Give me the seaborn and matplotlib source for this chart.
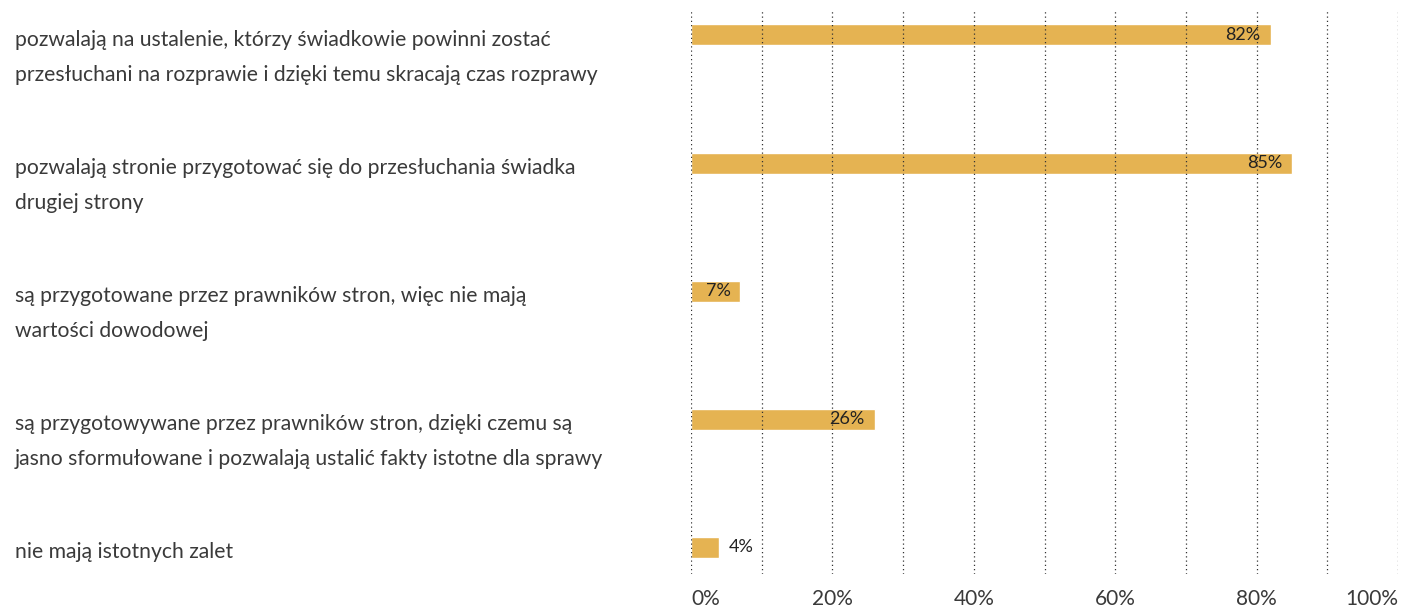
import matplotlib
matplotlib.use("Agg")
import matplotlib.pyplot as plt
import matplotlib.transforms as mtransforms
import seaborn as sns
import pandas as pd

categories = [
    "pozwalają na ustalenie, którzy świadkowie powinni zostać\nprzesłuchani na rozprawie i dzięki temu skracają czas rozprawy",
    "pozwalają stronie przygotować się do przesłuchania świadka\ndrugiej strony",
    "są przygotowane przez prawników stron, więc nie mają\nwartości dowodowej",
    "są przygotowywane przez prawników stron, dzięki czemu są\njasno sformułowane i pozwalają ustalić fakty istotne dla sprawy",
    "nie mają istotnych zalet",
]
values = [82, 85, 7, 26, 4]
value_labels = ["82%", "85%", "7%", "26%", "4%"]
tick_values = [0, 10, 20, 30, 40, 50, 60, 70, 80, 90, 100]
tick_labels = ["0%", "", "20%", "", "40%", "", "60%", "", "80%", "", "100%"]

BAR_COLOR = "#E5B352"
TEXT_COLOR = "#3a3a3a"

sns.set_theme(style="white")
plt.rcParams["font.family"] = ["Lato", "DejaVu Sans"]

df = pd.DataFrame({"cat": categories, "val": values})

fig = plt.figure(figsize=(14.07, 6.09), dpi=100)
ax = fig.add_axes([691 / 1407, 1 - 574 / 609, (1398 - 691) / 1407, (574 - 10) / 609])

sns.barplot(data=df, x="val", y="cat", color=BAR_COLOR, width=0.164,
            saturation=1, ax=ax, orient="h")

ax.set_xlim(0, 100)
ax.set_ylim(4.21, -0.195)
ax.set_xticks(tick_values)
ax.set_xticklabels(tick_labels, fontsize=15, color=TEXT_COLOR)
xt = ax.get_xticklabels()
xt[0].set_horizontalalignment("left")
xt[-1].set_horizontalalignment("right")
ax.tick_params(axis="x", length=0, pad=11)
ax.set_yticks([])
ax.set_xlabel("")
ax.set_ylabel("")
for s in ax.spines.values():
    s.set_visible(False)
ax.grid(axis="x", color="#333333", linestyle=(0, (1, 2.4)), linewidth=0.9)
ax.grid(axis="y", visible=False)
ax.set_axisbelow(False)
for p in ax.patches:
    p.set_zorder(1)
for gl in ax.get_xgridlines():
    gl.set_zorder(2)

# value labels: inside the bar end, outside for very short bars
px_per_unit = (1398 - 691) / 100
for i, (v, lab) in enumerate(zip(values, value_labels)):
    if v >= 5:
        ax.text(v - 10 / px_per_unit, i, lab, ha="right", va="center",
                fontsize=13, color="#222222", zorder=3)
    else:
        ax.text(v + 9 / px_per_unit, i, lab, ha="left", va="center",
                fontsize=13, color="#222222", zorder=3)

# category labels at the left edge of the figure
trans = mtransforms.blended_transform_factory(fig.transFigure, ax.transData)
for i, cat in enumerate(categories):
    ax.text(15 / 1407, i - 0.04, cat, transform=trans, ha="left", va="top",
            fontsize=15.2, color=TEXT_COLOR, linespacing=1.93)

fig.savefig("out.png", dpi=100)
